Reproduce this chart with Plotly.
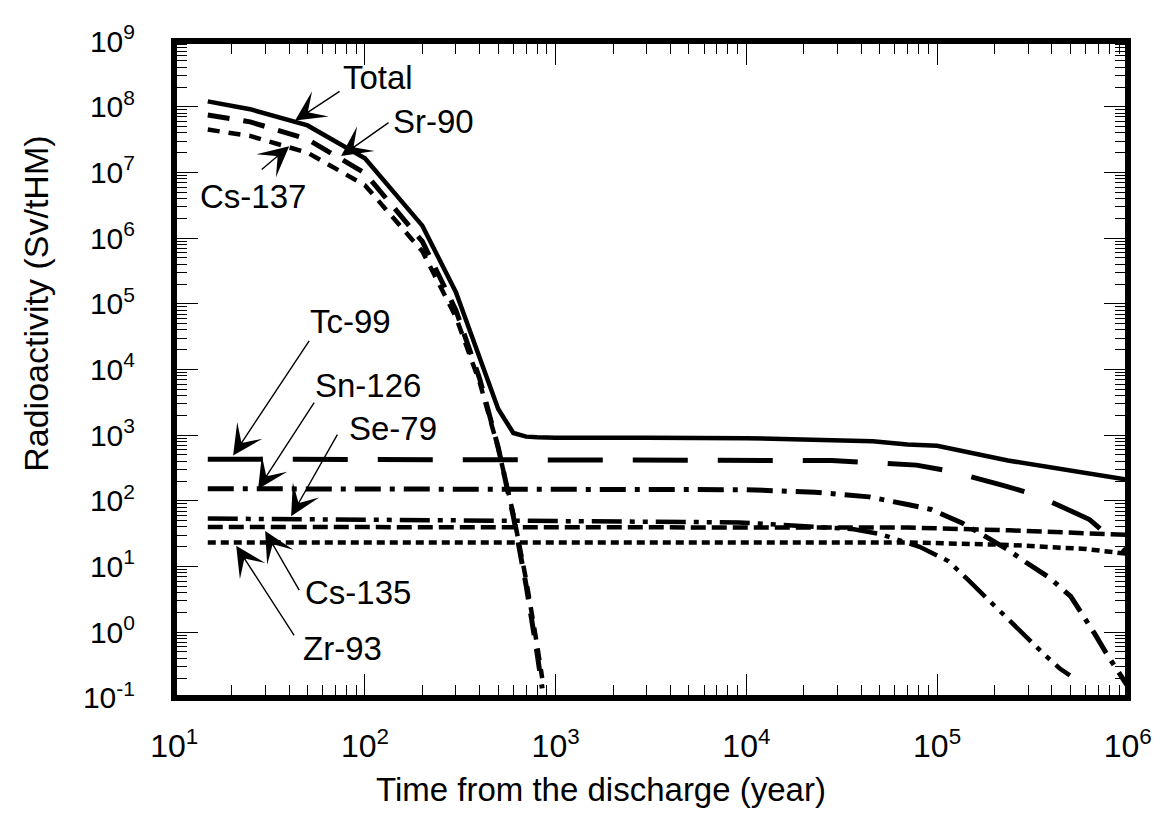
import plotly.graph_objects as go

# ---------------- data ----------------
t_total = [15, 25, 50, 100, 200, 300, 400, 500, 600, 700, 800, 1000, 3000,
           1e4, 4.6e4, 7e4, 1e5, 2.35e5, 1e6]
total = [1.21e8, 9.2e7, 5.2e7, 1.65e7, 1.55e6, 1.5e5, 1.5e4, 2.5e3, 1.08e3,
         950, 930, 915, 910, 900, 810, 720, 689, 411, 210]

t_short = [15, 25, 50, 100, 200, 300, 400, 500, 600, 700, 800, 850]
sr90 = [7.5e7, 5.9e7, 3.2e7, 9.8e6, 8.9e5, 8.0e4, 7.2e3, 650, 58, 5.2, 0.47, 0.14]
cs137 = [4.5e7, 3.6e7, 2.0e7, 6.4e6, 6.3e5, 6.3e4, 6.3e3, 630, 63, 6.3, 0.63, 0.2]

t_tc = [15, 1e4, 2.8e4, 7.8e4, 1.17e5, 2.24e5, 3.3e5, 6.3e5, 1e6]
tc99 = [431, 425, 411, 350, 283, 170, 123, 52, 16]

t_sn = [15, 1e4, 2.3e4, 4.4e4, 7e4, 9.3e4, 1.36e5, 1.78e5, 2.35e5, 2.92e5,
        3.9e5, 5.02e5, 5.87e5, 6.7e5, 7.67e5, 8.87e5, 1e6]
sn126 = [153, 148, 135, 115, 88, 74, 45.7, 28.3, 18.1, 11.6, 6.7, 3.5, 1.8,
         0.95, 0.49, 0.26, 0.15]

t_se = [15, 9.1e3, 3.66e4, 5.07e4, 8.1e4, 1.15e5, 1.45e5, 1.7e5, 2.16e5,
        2.92e5, 3.67e5, 4.4e5, 4.97e5]
se79 = [53.7, 47, 37, 31, 20, 12, 6.3, 4.0, 2.0, 0.88, 0.45, 0.28, 0.22]

t_cs135 = [15, 1e4, 7e4, 2.4e5, 6e5, 1e6]
cs135 = [40, 40, 39.2, 35.6, 32.8, 30.3]

t_zr = [15, 7e4, 2.4e5, 6e5, 1e6]
zr93 = [23.3, 23.3, 21.3, 18.5, 15.6]

x_major = [1e1, 1e2, 1e3, 1e4, 1e5, 1e6]
x_labels = ["10<sup>1</sup>", "10<sup>2</sup>", "10<sup>3</sup>",
            "10<sup>4</sup>", "10<sup>5</sup>", "10<sup>6</sup>"]
y_exps = list(range(-1, 10))
y_major = [10.0 ** e for e in y_exps]
y_labels = ["10<sup>%d</sup>" % e for e in y_exps]

# ---------------- figure ----------------
FONT = "Liberation Sans, Arial, Helvetica, sans-serif"
fig = go.Figure()

series = [
    ("Total", t_total, total, "solid", 4.5),
    ("Sr-90", t_short, sr90, "22px,14px", 5),
    ("Cs-137", t_short, cs137, "12px,9px", 4.5),
    ("Tc-99", t_tc, tc99, "55px,30px", 5),
    ("Sn-126", t_sn, sn126, "26px,9px,5px,9px", 5),
    ("Se-79", t_se, se79, "30px,8px,5px,8px,5px,8px", 4.5),
    ("Cs-135", t_cs135, cs135, "15px,6px", 4.5),
    ("Zr-93", t_zr, zr93, "8px,5px", 4.5),
]
for name, tx, ty, dash, w in series:
    fig.add_trace(go.Scatter(x=tx, y=ty, mode="lines", name=name,
                             line=dict(color="black", width=w, dash=dash),
                             showlegend=False))

minor_x = [m * 10.0 ** e for e in range(1, 6) for m in range(2, 10)]
minor_y = [m * 10.0 ** e for e in range(-1, 9) for m in range(2, 10)]

common = dict(showline=True, linewidth=1, linecolor="black", mirror="allticks",
              ticks="inside", ticklen=24, tickwidth=1.3, tickcolor="black",
              showgrid=False, zeroline=False, ticklabeloverflow="allow",
              minor=dict(ticks="inside", ticklen=13, tickwidth=1.2,
                         tickcolor="black", showgrid=False))

fig.update_xaxes(type="log", range=[0.999, 6.001], tickmode="array", tickvals=x_major,
                 ticktext=x_labels, tickfont=dict(family=FONT, size=32, color="black"),
                 ticklabelstandoff=20, **common)
fig.update_xaxes(minor_tickvals=minor_x)
fig.update_yaxes(type="log", range=[-1.002, 9.002], tickmode="array", tickvals=y_major,
                 ticktext=y_labels, tickfont=dict(family=FONT, size=30, color="black"),
                 ticklabelstandoff=32, **common)
fig.update_yaxes(minor_tickvals=minor_y)

# thick frame around the plotting area
fig.add_shape(type="rect", xref="paper", yref="paper", x0=0, x1=1, y0=0, y1=1,
              line=dict(color="black", width=6), layer="above")

# labels with arrows: (text, text pos, arrow tail, arrow head) in log10 axis units
labels = [
    ("Total", (2.069, 8.44), (1.875, 8.25), (1.634, 7.79)),
    ("Sr-90", (2.357, 7.775), (2.132, 7.775), (1.875, 7.25)),
    ("Cs-137", (1.414, 6.64), (1.451, 7.025), (1.603, 7.40)),
    ("Tc-99", (1.922, 4.73), (1.713, 4.46), (1.309, 2.69)),
    ("Sn-126", (2.017, 3.75), (1.739, 3.52), (1.44, 2.18)),
    ("Se-79", (2.148, 3.106), (1.86, 3.03), (1.613, 1.765)),
    ("Cs-135", (1.964, 0.60), (1.66, 0.617), (1.477, 1.54)),
    ("Zr-93", (1.88, -0.25), (1.634, -0.07), (1.325, 1.317)),
]
for txt, tp, tail, head in labels:
    fig.add_annotation(x=tp[0], y=tp[1], xref="x", yref="y", text=txt,
                       showarrow=False, font=dict(family=FONT, size=33, color="black"),
                       xanchor="center", yanchor="middle")
    fig.add_annotation(x=head[0], y=head[1], xref="x", yref="y",
                       ax=tail[0], ay=tail[1], axref="x", ayref="y", text="",
                       showarrow=True, arrowhead=3, arrowsize=3.6, arrowwidth=1.4,
                       arrowcolor="black", standoff=0)

# axis titles
fig.add_annotation(x=-0.1447, y=0.60, xref="paper", yref="paper",
                   text="Radioactivity (Sv/tHM)", textangle=-90, showarrow=False,
                   font=dict(family=FONT, size=34, color="black"),
                   xanchor="center", yanchor="middle")
fig.add_annotation(x=0.448, y=-0.1386, xref="paper", yref="paper",
                   text="Time from the discharge (year)", showarrow=False,
                   font=dict(family=FONT, size=33, color="black"),
                   xanchor="center", yanchor="middle")

fig.update_layout(width=1163, height=814,
                  margin=dict(l=166, r=43, t=19, b=124),
                  plot_bgcolor="white", paper_bgcolor="white",
                  showlegend=False)

fig.write_html("out.html")
